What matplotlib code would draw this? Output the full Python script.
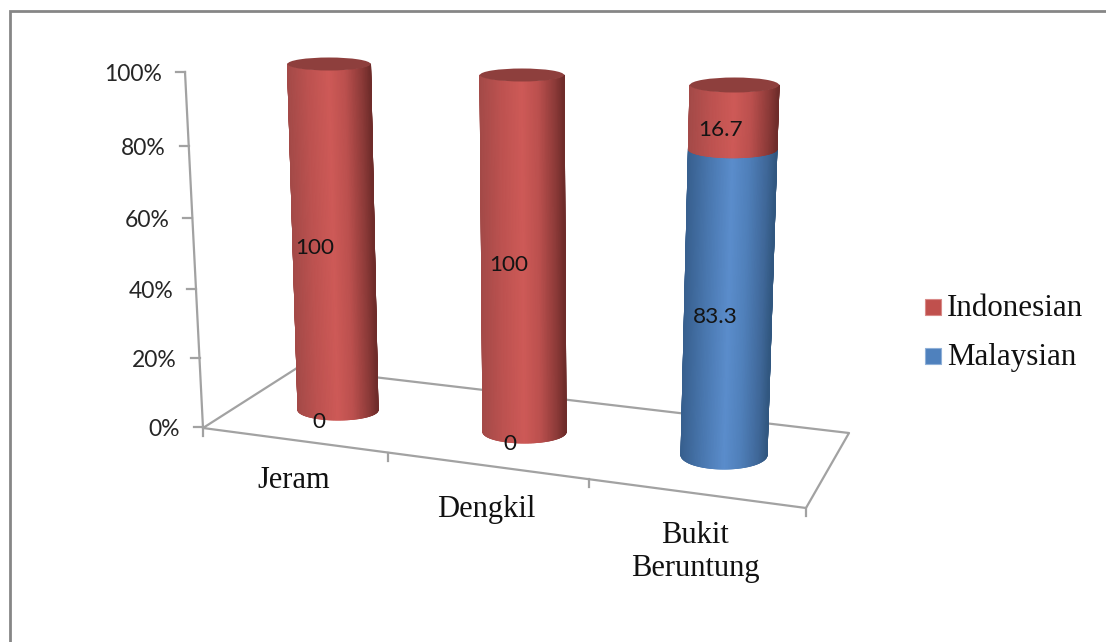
import numpy as np
import matplotlib
matplotlib.use("Agg")
import matplotlib.pyplot as plt
from matplotlib.collections import LineCollection
from matplotlib.colors import LinearSegmentedColormap
from matplotlib.patches import Ellipse, Rectangle

categories = ["Jeram", "Dengkil", "Bukit\nBeruntung"]
malaysian = [0, 0, 83.3]
indonesian = [100, 100, 16.7]
axis_ticks = [0, 20, 40, 60, 80, 100]

# how the fake 3d box sits on the page, in pixels
base_x = [338, 524.5, 724]
base_y = [410, 432, 455]
top_x = [329, 522, 734.5]
top_y = [64, 75, 85]
base_rx = [40, 41.5, 43]
top_rx = [41.5, 42, 44.5]
base_ry = [10, 11, 14]
top_ry = [6.5, 6.5, 7.5]
label_dx = [-19, -15, -13]
cat_label_x = [293.5, 486, 695]
cat_label_y = [481, 509, 552]
cat_tick_x = [203, 388, 589, 806]

GRID = "#a2a2a2"
red_map = LinearSegmentedColormap.from_list(
    "red", [(0, "#a44a48"), (0.25, "#bd5250"), (0.5, "#ce5a57"), (0.7, "#bb504e"), (0.9, "#8c3a38"), (1, "#6f2c2a")])
blue_map = LinearSegmentedColormap.from_list(
    "blue", [(0, "#38608f"), (0.25, "#4a78b0"), (0.5, "#5b8dcc"), (0.7, "#4f7fb9"), (0.9, "#3f6798"), (1, "#315780")])


def persp(v):
    # slight perspective on the value axis
    t = v / 100
    return t / (1 + 0.045 * (1 - t))


def at(i, v):
    t = persp(v)
    x = base_x[i] + (top_x[i] - base_x[i]) * t
    y = base_y[i] + (top_y[i] - base_y[i]) * t
    rx = base_rx[i] + (top_rx[i] - base_rx[i]) * t
    ry = base_ry[i] + (top_ry[i] - base_ry[i]) * t
    return x, y, rx, ry


def draw_segment(ax, i, v0, v1, cmap):
    th = np.linspace(np.pi, 0, 91)
    x0, y0, rx0, ry0 = at(i, v0)
    x1, y1, rx1, ry1 = at(i, v1)
    X = np.array([x0 + rx0 * np.cos(th), x1 + rx1 * np.cos(th)])
    Y = np.array([y0 + ry0 * np.sin(th), y1 + ry1 * np.sin(th)])
    u = (np.cos(th) + 1) / 2
    ax.pcolormesh(X, Y, np.array([u, u]), shading="gouraud", cmap=cmap, vmin=0, vmax=1, zorder=3)

    # the mesh edge is not antialiased, so trace the outline with thin lines
    ax.plot(X[:, 0], Y[:, 0], color=cmap(0.0), lw=0.7, zorder=3)
    ax.plot(X[:, -1], Y[:, -1], color=cmap(1.0), lw=0.7, zorder=3)
    pts = np.column_stack([X[0], Y[0]])
    segs = np.stack([pts[:-1], pts[1:]], axis=1)
    ax.add_collection(LineCollection(segs, colors=cmap((u[:-1] + u[1:]) / 2), linewidths=0.7, zorder=3))


fig = plt.figure(figsize=(11.06, 6.42), dpi=100)
ax = fig.add_axes([0, 0, 1, 1])
ax.set_xlim(0, 1106)
ax.set_ylim(642, 0)
ax.axis("off")

# outer frame, only top and left show
ax.plot([10, 10, 1106], [642, 11, 11], color="#868686", lw=2.0, solid_joinstyle="miter")

# floor
ax.plot([297, 203, 806, 849, 297], [368, 428, 508, 433, 368], color=GRID, lw=1.6, zorder=1)

# value axis
ax.plot([185, 203], [72, 428], color=GRID, lw=1.6, zorder=1)
for v in axis_ticks:
    t = persp(v)
    y = 427 - 355 * t
    x = 203 - 18 * t
    ax.plot([x - 9, x], [y, y], color=GRID, lw=1.6, zorder=1)
    ax.text(x - 23, y + 2.5, f"{v}%", ha="right", va="center", fontsize=16.5,
            family="Lato", color="#262626")

# category ticks on the front edge
for x in cat_tick_x:
    y = 428 + (x - 203) * 80 / 603
    ax.plot([x, x], [y, y + 8], color=GRID, lw=1.6, zorder=1)

for i in range(len(categories)):
    if malaysian[i] > 0:
        draw_segment(ax, i, 0, malaysian[i], blue_map)
    draw_segment(ax, i, malaysian[i], malaysian[i] + indonesian[i], red_map)
    x, y, rx, ry = at(i, 100)
    ax.add_patch(Ellipse((x, y), 2 * rx, 2 * ry, fc="#8e3f3d", ec="none", zorder=4))

    # data labels sit a bit left and under the middle of each segment
    bottom = 0
    for val in (malaysian[i], indonesian[i]):
        mx, my, _, _ = at(i, bottom + val / 2)
        dy = 12.5 if val == 0 or i == 2 else 7.5
        ax.text(mx + label_dx[i], my + dy, f"{val:g}", ha="center", va="center",
                fontsize=16.2, family="Lato", color="#141414", zorder=5)
        bottom += val

    ax.text(cat_label_x[i], cat_label_y[i], categories[i], ha="center", va="center",
            multialignment="center", fontsize=22, family="Liberation Serif", color="#111111",
            linespacing=1.2)

# legend
ax.add_patch(Rectangle((925, 299), 16, 16, fc="#c0504d", ec="#d98a88", lw=0.8))
ax.add_patch(Rectangle((925, 348), 16, 16, fc="#4f81bd", ec="#8fb0d8", lw=0.8))
ax.text(947, 309, "Indonesian", ha="left", va="center", fontsize=22.3,
        family="Liberation Serif", color="#111111")
ax.text(947, 358, "Malaysian", ha="left", va="center", fontsize=22.3,
        family="Liberation Serif", color="#111111")

fig.savefig("out.png", dpi=100)
plt.close(fig)
